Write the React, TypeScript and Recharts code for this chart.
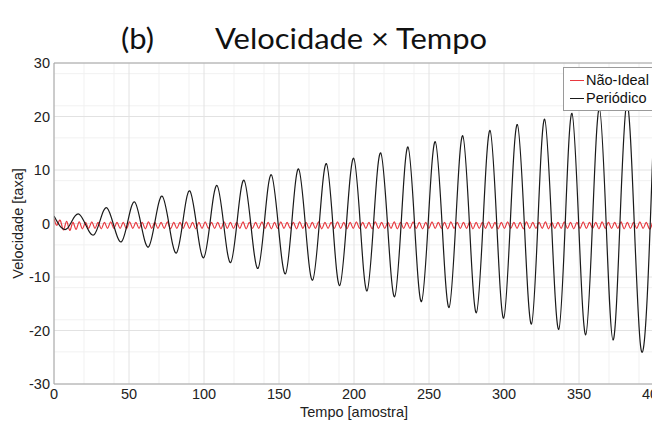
import {
  CartesianGrid,
  Legend,
  Line,
  LineChart,
  ReferenceLine,
  XAxis,
  YAxis,
} from "recharts";

// Periódico: picos e vales (amostra, velocidade)
const periodicoT = [
  0, 8.5, 17, 26.7, 35.4, 45, 53.8, 63, 72.2, 81.6, 90.5, 99.8, 108.7, 117.8,
  126.7, 136, 144.9, 154.3, 163.1, 172.4, 181.6, 190.5, 199.8, 208.7, 217.8,
  227.1, 236, 245, 254.2, 263.4, 272.5, 281.6, 290.7, 299.8, 308.9, 318.3,
  327.1, 336.5, 345.3, 354.5, 363.6, 372.7, 381.8, 391, 400,
];
const periodicoV = [
  1.4, -1.0, 1.7, -2.1, 2.9, -3.4, 4.0, -4.4, 5.1, -5.5, 6.1, -6.4, 7.1, -7.3,
  8.1, -8.4, 9.1, -9.4, 10.2, -10.6, 11.2, -11.6, 12.2, -12.6, 13.2, -13.7,
  14.3, -14.6, 15.3, -15.7, 16.4, -16.7, 17.4, -17.7, 18.5, -18.8, 19.5, -19.8,
  20.6, -20.8, 21.5, -21.8, 22.4, -22.8, 20,
];

// Não-Ideal: extremos da oscilação pequena, um a cada 2.1 amostras
const NAO_IDEAL_PASSO = 2.1;
const naoIdealV = [
  0.9, -0.3, 0.6, -1.2, 0.4, -1.3, 0.2, -1.1, 0.3, -1.0,
  0.2, -0.9, 0.3, -0.9, 0.2, -1.0, 0.2, -0.9, 0.3, -0.9,
  0.2, -0.9, 0.2, -1.0, 0.3, -0.9, 0.2, -0.9, 0.2, -1.0,
  0.3, -0.9, 0.2, -0.9, 0.2, -0.9, 0.3, -1.0, 0.2, -0.9,
  0.2, -0.9, 0.3, -0.9, 0.2, -1.0, 0.2, -0.9, 0.3, -0.9,
  0.2, -0.9, 0.2, -1.0, 0.3, -0.9, 0.2, -0.9, 0.2, -0.9,
  0.3, -1.0, 0.2, -0.9, 0.2, -0.9, 0.3, -0.9, 0.2, -1.0,
  0.2, -0.9, 0.3, -0.9, 0.2, -0.9, 0.2, -1.0, 0.3, -0.9,
  0.2, -0.9, 0.2, -0.9, 0.3, -1.0, 0.2, -0.9, 0.2, -0.9,
  0.3, -0.9, 0.2, -1.0, 0.2, -0.9, 0.3, -0.9, 0.2, -0.9,
  0.2, -1.0, 0.3, -0.9, 0.2, -0.9, 0.2, -0.9, 0.3, -1.0,
  0.2, -0.9, 0.2, -0.9, 0.3, -0.9, 0.2, -1.0, 0.2, -0.9,
  0.3, -0.9, 0.2, -0.9, 0.2, -1.0, 0.3, -0.9, 0.2, -0.9,
  0.2, -0.9, 0.3, -1.0, 0.2, -0.9, 0.2, -0.9, 0.3, -0.9,
  0.2, -1.0, 0.2, -0.9, 0.3, -0.9, 0.2, -0.9, 0.2, -1.0,
  0.3, -0.9, 0.2, -0.9, 0.2, -0.9, 0.3, -1.0, 0.2, -0.9,
  0.2, -0.9, 0.3, -0.9, 0.2, -1.0, 0.2, -0.9, 0.3, -0.9,
  0.2, -0.9, 0.2, -1.0, 0.3, -0.9, 0.2, -0.9, 0.2, -0.9,
  0.3, -1.0, 0.2, -0.9, 0.2, -0.9, 0.3, -0.9, 0.2, -1.0,
  0.2,
];

const xTicks = [0, 50, 100, 150, 200, 250, 300, 350, 400];
const yTicks = [-30, -20, -10, 0, 10, 20, 30];
const xMinor = [
  10, 20, 30, 40, 60, 70, 80, 90, 110, 120, 130, 140, 160, 170, 180, 190, 210,
  220, 230, 240, 260, 270, 280, 290, 310, 320, 330, 340, 360, 370, 380, 390,
];
const yMinor = [
  -28, -26, -24, -22, -18, -16, -14, -12, -8, -6, -4, -2, 2, 4, 6, 8, 12, 14,
  16, 18, 22, 24, 26, 28,
];

const periodico = periodicoT.map((t, i) => ({ t, v: periodicoV[i] }));
const naoIdeal = naoIdealV.map((v, i) => ({ t: i * NAO_IDEAL_PASSO, v }));

const FONT = "'Liberation Sans', Arial, sans-serif";
const AXIS = "#a6a6a6";

const LegendBox = ({ payload }: any) => (
  <div
    style={{
      border: "1px solid #9a9a9a",
      background: "#fff",
      width: 90,
      padding: "3px 0 3px 0",
      fontFamily: FONT,
      fontSize: 14.5,
      color: "#111",
      boxSizing: "border-box",
    }}
  >
    {(payload || []).map((p: any) => (
      <div
        key={p.value}
        style={{ display: "flex", alignItems: "center", height: 18 }}
      >
        <span
          style={{
            display: "inline-block",
            width: 14,
            height: 0,
            borderTop: `1px solid ${p.color}`,
            margin: "0 2px 0 6px",
          }}
        />
        <span>{p.value}</span>
      </div>
    ))}
  </div>
);

export default function App() {
  return (
    <div
      style={{
        position: "absolute",
        left: 0,
        top: 0,
        width: 652,
        height: 428,
        overflow: "hidden",
        background: "#fff",
      }}
    >
      <svg
        width={652}
        height={60}
        style={{ position: "absolute", left: 0, top: 0 }}
      >
        <text
          x={121}
          y={49}
          fontFamily="Lato, 'Open Sans', sans-serif"
          fontSize={29}
          fill="#111"
          textLength={33}
          lengthAdjust="spacingAndGlyphs"
        >
          (b)
        </text>
        <text
          x={215}
          y={49}
          fontFamily="Lato, 'Open Sans', sans-serif"
          fontSize={29}
          fill="#111"
          textLength={272}
          lengthAdjust="spacingAndGlyphs"
        >
          Velocidade × Tempo
        </text>
      </svg>
      <LineChart
        width={700}
        height={428}
        margin={{ top: 63, right: 46, bottom: 0, left: 0 }}
        style={{ position: "absolute", left: 0, top: 0 }}
      >
        <CartesianGrid
          stroke="#f1f1f1"
          verticalValues={xMinor}
          horizontalValues={yMinor}
        />
        <CartesianGrid
          stroke="#e2e2e2"
          verticalValues={xTicks}
          horizontalValues={yTicks}
        />
        <XAxis
          dataKey="t"
          type="number"
          domain={[0, 400]}
          ticks={xTicks}
          allowDataOverflow
          height={44}
          stroke={AXIS}
          tickLine={false}
          tickSize={0}
          tickMargin={5}
          tick={{ fill: "#222", fontSize: 14.5, fontFamily: FONT }}
          label={{
            value: "Tempo [amostra]",
            position: "insideBottom",
            offset: 11,
            style: { fill: "#222", fontSize: 14.5, fontFamily: FONT },
          }}
        />
        <YAxis
          type="number"
          domain={[-30, 30]}
          ticks={yTicks}
          allowDataOverflow
          width={54}
          stroke={AXIS}
          tickLine={false}
          tickSize={0}
          tickMargin={4}
          tick={{ fill: "#222", fontSize: 14.5, fontFamily: FONT }}
          label={{
            value: "Velocidade [taxa]",
            angle: -90,
            position: "insideLeft",
            offset: 18,
            style: {
              fill: "#222",
              fontSize: 14.5,
              fontFamily: FONT,
              textAnchor: "middle",
            },
          }}
        />
        <ReferenceLine y={30} stroke={AXIS} />
        <ReferenceLine x={400} stroke={AXIS} />
        <Legend
          content={LegendBox}
          layout="vertical"
          align="center"
          verticalAlign="middle"
          wrapperStyle={{ position: "absolute", left: 563, top: 67, width: 90 }}
        />
        <Line
          data={naoIdeal}
          dataKey="v"
          name="Não-Ideal"
          type="natural"
          stroke="#e8383f"
          strokeWidth={1.2}
          dot={false}
          isAnimationActive={false}
        />
        <Line
          data={periodico}
          dataKey="v"
          name="Periódico"
          type="natural"
          stroke="#1a1a1a"
          strokeWidth={1.2}
          dot={false}
          isAnimationActive={false}
        />
      </LineChart>
    </div>
  );
}
